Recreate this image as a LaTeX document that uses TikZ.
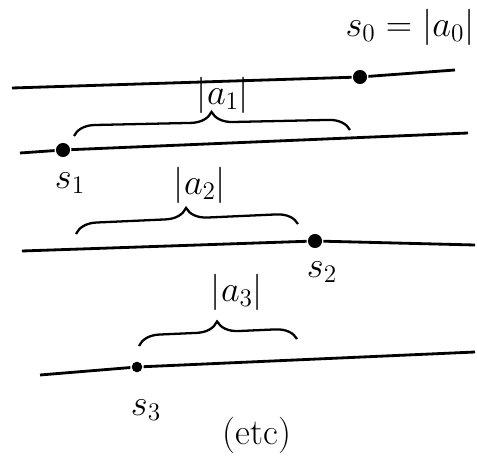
\documentclass[tikz,border=0pt]{standalone}
\usepackage{amsmath}
\usepackage{tikz}
\usetikzlibrary{positioning, decorations.pathreplacing}

\begin{document}
\begin{tikzpicture}[x=0.02cm, y=-0.02cm, line width=1.6pt, dot/.style={circle, fill, inner sep=0pt, minimum size=8pt}, lbl/.style={font=\huge}, brc/.style={decorate, decoration={brace, amplitude=12pt}, line width=1.3pt}]
\useasboundingbox (0,0) rectangle (477,459);
% lines and their points
\coordinate (l0a) at (12,88);
\coordinate (l0b) at (455,70);
\node[dot] (s0) at (360,77) {};
\coordinate (l1a) at (20,153);
\coordinate (l1b) at (468,133);
\node[dot] (s1) at (63,150) {};
\coordinate (l2a) at (22,251);
\coordinate (l2b) at (475,245);
\node[dot] (s2) at (315,241) {};
\coordinate (l3a) at (40,375);
\coordinate (l3b) at (475,352);
\node[dot, minimum size=6pt] (s3) at (137,367) {};
\draw (l0a) -- (s0) -- (l0b);
\draw (l1a) -- (s1) -- (l1b);
\draw (l2a) -- (s2) -- (l2b);
\draw (l3a) -- (s3) -- (l3b);
% braces
\coordinate (b1a) at (74,136);
\coordinate (b1b) at (350,130);
\coordinate (b2a) at (76,234);
\coordinate (b2b) at (298,224);
\coordinate (b3a) at (139,346);
\coordinate (b3b) at (297,339);
\draw[brc] (b1a) -- (b1b);
\draw[brc] (b2a) -- (b2b);
\draw[brc] (b3a) -- (b3b);
% labels
\node[lbl] (t0) at (410,27) {$s_0=|a_0|$};
\node[lbl] (t1) at (223,95) {$|a_1|$};
\node[lbl] (t2) at (200,185) {$|a_2|$};
\node[lbl] (t3) at (237,292) {$|a_3|$};
\node[lbl] (ts1) at (70,183) {$s_1$};
\node[lbl] (ts2) at (322,272) {$s_2$};
\node[lbl] (ts3) at (146,410) {$s_3$};
\node[lbl] (etc) at (257,435) {(etc)};
\end{tikzpicture}
\end{document}
